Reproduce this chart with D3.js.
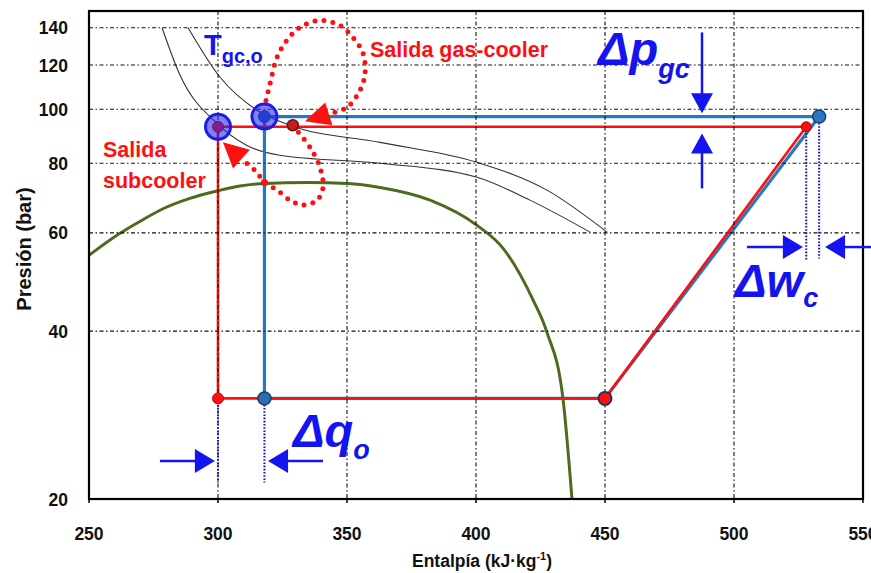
<!DOCTYPE html>
<html>
<head>
<meta charset="utf-8">
<script src="https://cdn.jsdelivr.net/npm/d3@7"></script>
<style>
  html, body { margin: 0; padding: 0; background: #fff; }
  svg { display: block; font-family: "Liberation Sans", Arial, sans-serif; }
</style>
</head>
<body>
<svg id="chart" width="871" height="573"></svg>
<script>
// Axis ticks
const hTicks = [250, 300, 350, 400, 450, 500, 550];
const pTicks = [20, 40, 60, 80, 100, 120, 140];
const hGrid = [300, 350, 400, 450, 500];
const pGrid = [40, 60, 80, 100, 120, 140];

// Saturation dome (enthalpy kJ/kg, pressure bar)
const domeH = [250, 262, 270.2, 278.7, 289.1, 300, 308.5, 318, 335, 350, 362.8, 382.2, 400.4, 410.5, 422.1, 427.5, 433.7, 437.2];
const domeP = [54.7, 59.9, 63.1, 66.3, 69.2, 71.4, 72.8, 73.6, 73.9, 73.6, 72.4, 68.7, 61.9, 56.3, 45.5, 39.8, 30.3, 20];

// Gas-cooler outlet isotherms
const isoAH = [278.3, 285.3, 299.6, 311.2, 324.0, 362.8, 400.4, 420.9, 444.2];
const isoAP = [140, 115.0, 94.3, 86.1, 82.7, 80.0, 75.5, 68.7, 60.2];
const isoBH = [288.4, 300.8, 315.1, 327.9, 362.8, 400.4, 427.5, 450.8];
const isoBP = [140, 114.1, 99.6, 93.6, 87.2, 80.3, 71.6, 60.2];

// Cycle with subcooler (red) and without (blue)
const redH = [300, 300, 450, 528, 300];
const redP = [93, 30.3, 30.3, 93, 93];
const blueH = [318, 318, 450, 533, 318];
const blueP = [97, 30.3, 30.3, 97, 97];

// Dotted callout paths
const gcLoopH = [318.6, 320.2, 322.9, 326.7, 331.8, 339.5, 347.3, 352.3, 356.2, 357.0, 355.0, 350.0, 343.0];
const gcLoopP = [103.7, 111.3, 123.9, 132.9, 140.2, 144.3, 141.3, 134.5, 126.0, 116.0, 108.1, 100.8, 98.1];
const scLoopH = [329.1, 330.6, 335.7, 339.5, 340.7, 338.4, 332.9, 327.9, 322.9, 318.2, 314.3, 309.3];
const scLoopP = [93.6, 91.6, 85.4, 78.7, 72.4, 68.7, 67.3, 68.7, 71.6, 73.9, 77.7, 81.2];

const svg = d3.select("#chart");
const M = { left: 89, right: 863, top: 11, bottom: 499 };
const x = d3.scaleLinear().domain([250, 550]).range([M.left, M.right]);
const y = d3.scaleLog().domain([20, 150]).range([M.bottom, M.top]);

const zip = (a, b) => a.map((v, i) => [v, b[i]]);
const line = d3.line().x(d => x(d[0])).y(d => y(d[1]));
const smooth = d3.line().x(d => x(d[0])).y(d => y(d[1])).curve(d3.curveCatmullRom.alpha(0.5));
const mono = d3.line().x(d => x(d[0])).y(d => y(d[1])).curve(d3.curveMonotoneX);

const RED = "#ff1010", BLUE = "#2479c4", TXTBLUE = "#1414f0", ANNOT = "#1010c8";

// Clip for plot contents
svg.append("defs").append("clipPath").attr("id", "plot")
  .append("rect").attr("x", M.left).attr("y", M.top)
  .attr("width", M.right - M.left).attr("height", M.bottom - M.top);

const plot = svg.append("g").attr("clip-path", "url(#plot)");

// Isotherms
[[isoAH, isoAP], [isoBH, isoBP]].forEach(([h, p]) => {
  plot.append("path").attr("d", mono(zip(h, p)))
    .attr("fill", "none").attr("stroke", "#333").attr("stroke-width", 1.1);
});

// Dome
plot.append("path").attr("d", mono(zip(domeH, domeP)))
  .attr("fill", "none").attr("stroke", "#4d6a1e").attr("stroke-width", 3);

// Cycles
plot.append("path").attr("d", line(zip(blueH, blueP)))
  .attr("fill", "none").attr("stroke", BLUE).attr("stroke-width", 3.2).attr("stroke-linejoin", "round");
plot.append("path").attr("d", line(zip(redH, redP)))
  .attr("fill", "none").attr("stroke", RED).attr("stroke-width", 2.6).attr("stroke-linejoin", "round");

// Grid on top of the cycle lines
const gridDash = "4,2.5,1.5,2.5";
plot.selectAll("line.hg").data(pGrid).join("line")
  .attr("x1", M.left).attr("x2", M.right)
  .attr("y1", d => y(d)).attr("y2", d => y(d))
  .attr("stroke", "#111").attr("stroke-width", 1.1).attr("stroke-dasharray", gridDash);
plot.selectAll("line.vg").data(hGrid).join("line")
  .attr("x1", d => x(d)).attr("x2", d => x(d))
  .attr("y1", M.top).attr("y2", M.bottom)
  .attr("stroke", "#111").attr("stroke-width", 1.1).attr("stroke-dasharray", gridDash);

// Blue dotted enthalpy markers
const markers = [[300, 30.3, 21.4], [318, 30.3, 21.4], [528, 93, 53.6], [533, 97, 54.0]];
plot.selectAll("line.mk").data(markers).join("line")
  .attr("x1", d => x(d[0])).attr("x2", d => x(d[0]))
  .attr("y1", d => y(d[1])).attr("y2", d => y(d[2]))
  .attr("stroke", ANNOT).attr("stroke-width", 2).attr("stroke-dasharray", "1.6,1.6");

// Red dotted callouts
[[gcLoopH, gcLoopP], [scLoopH, scLoopP]].forEach(([h, p]) => {
  plot.append("path").attr("d", smooth(zip(h, p)))
    .attr("fill", "none").attr("stroke", RED).attr("stroke-width", 5)
    .attr("stroke-linecap", "round").attr("stroke-dasharray", "0,9");
});

// Arrow head helper: triangle with tip at (tx,ty) pointing away from (fx,fy)
function head(g, fx, fy, tx, ty, len, hw, color) {
  const dx = tx - fx, dy = ty - fy, L = Math.hypot(dx, dy);
  const ux = dx / L, uy = dy / L;
  const bx = tx - ux * len, by = ty - uy * len;
  g.append("path")
    .attr("d", `M${tx},${ty}L${bx - uy * hw},${by + ux * hw}L${bx + uy * hw},${by - ux * hw}Z`)
    .attr("fill", color);
}
function arrow(g, h0, p0, h1, p1, color, len, hw) {
  const fx = x(h0), fy = y(p0), tx = x(h1), ty = y(p1);
  const L = Math.hypot(tx - fx, ty - fy);
  const ex = tx - (tx - fx) / L * (len - 2), ey = ty - (ty - fy) / L * (len - 2);
  g.append("line").attr("x1", fx).attr("y1", fy).attr("x2", ex).attr("y2", ey)
    .attr("stroke", color).attr("stroke-width", 2.5);
  head(g, fx, fy, tx, ty, len, hw, color);
}

// Red callout heads
head(plot, x(343.0), y(98.1), x(333.7), y(95.1), 25, 12, RED);
head(plot, x(309.3), y(81.2), x(301.9), y(87.2), 25, 12.5, RED);

// Points
const dot = (h, p, r, fill, stroke, sw) => plot.append("circle")
  .attr("cx", x(h)).attr("cy", y(p)).attr("r", r)
  .attr("fill", fill).attr("stroke", stroke).attr("stroke-width", sw);
dot(318, 73.9, 3.5, RED, "none", 0);
dot(300, 30.3, 5.5, RED, "#c01010", 1);
dot(318, 30.3, 6.5, "#2a6fae", "#1d3b66", 1.5);
dot(450, 30.3, 6.5, RED, "#303050", 2);
dot(528, 93, 5, RED, "#b00000", 1);
dot(533, 97, 6.5, "#2a78c0", "#1a3f70", 1.5);
dot(329, 93.6, 5.5, "#d01818", "#5a1818", 1.5);
dot(300, 93, 5.5, RED, "#b00000", 1);
dot(318, 97, 6, "#1e5fb0", "#1a3f70", 1);

// Highlighted outlet states
[[300, 93], [318, 97]].forEach(([h, p]) => {
  plot.append("circle").attr("cx", x(h)).attr("cy", y(p)).attr("r", 12.5)
    .attr("fill", "rgba(40,40,235,0.58)").attr("stroke", "#1c1ce8").attr("stroke-width", 3);
});

// Frame
svg.append("rect").attr("x", M.left).attr("y", M.top)
  .attr("width", M.right - M.left).attr("height", M.bottom - M.top)
  .attr("fill", "none").attr("stroke", "#000").attr("stroke-width", 2.2);

// X ticks
svg.selectAll("line.xt").data(hTicks).join("line")
  .attr("x1", d => x(d)).attr("x2", d => x(d)).attr("y1", M.bottom).attr("y2", M.bottom + 4)
  .attr("stroke", "#000").attr("stroke-width", 1.5);

// Tick labels
svg.selectAll("text.xl").data(hTicks).join("text")
  .attr("x", d => x(d)).attr("y", 540).attr("text-anchor", "middle")
  .attr("font-size", 17.5).attr("font-weight", "bold").attr("fill", "#111").text(d => d);
svg.selectAll("text.yl").data(pTicks).join("text")
  .attr("x", 68).attr("y", d => y(d) + 6.5).attr("text-anchor", "end")
  .attr("font-size", 17.5).attr("font-weight", "bold").attr("fill", "#111").text(d => d);

// Axis titles
const xt = svg.append("text").attr("x", 482).attr("y", 567).attr("text-anchor", "middle")
  .attr("font-size", 17.5).attr("font-weight", "bold").attr("fill", "#111");
xt.append("tspan").text("Entalpía (kJ·kg");
xt.append("tspan").attr("font-size", 11).attr("dy", -7).text("-1");
xt.append("tspan").attr("dy", 7).text(")");
svg.append("text").attr("transform", "translate(31,249) rotate(-90)").attr("text-anchor", "middle")
  .attr("font-size", 20).attr("font-weight", "bold").attr("fill", "#111").text("Presión (bar)");

// Annotation text
const tg = svg.append("text").attr("x", 204).attr("y", 55).attr("fill", TXTBLUE).attr("font-weight", "bold");
tg.append("tspan").attr("font-size", 29).text("T");
tg.append("tspan").attr("font-size", 20).attr("dy", 8).text("gc,o");

svg.append("text").attr("x", 370).attr("y", 57).attr("fill", RED).attr("font-weight", "bold")
  .attr("font-size", 21.5).text("Salida gas-cooler");
const sc = svg.append("text").attr("fill", RED).attr("font-weight", "bold").attr("font-size", 21.5);
sc.append("tspan").attr("x", 103).attr("y", 157).text("Salida");
sc.append("tspan").attr("x", 103).attr("y", 188).text("subcooler");

function delta(xp, yp, main, sub, dySub) {
  const t = svg.append("text").attr("x", xp).attr("y", yp).attr("fill", TXTBLUE)
    .attr("font-weight", "bold").attr("font-style", "italic");
  t.append("tspan").attr("font-size", 47).text(main);
  t.append("tspan").attr("font-size", 27).attr("dy", dySub).text(sub);
}
delta(598, 65, "Δp", "gc", 13);
delta(735, 297, "Δw", "c", 10);
delta(293, 447, "Δq", "o", 12);

// Difference arrows
const ag = svg.append("g");
arrow(ag, 487.6, 137.3, 487.6, 98.3, TXTBLUE, 20, 11);
arrow(ag, 487.6, 72.1, 487.6, 90.5, TXTBLUE, 20, 11);
arrow(ag, 505.0, 56.6, 526.7, 56.6, TXTBLUE, 20, 12);
arrow(ag, 553.1, 56.6, 535.3, 56.6, TXTBLUE, 20, 12);
arrow(ag, 277.5, 23.4, 298.8, 23.4, TXTBLUE, 20, 12);
arrow(ag, 340.7, 23.4, 319.4, 23.4, TXTBLUE, 20, 12);
</script>
</body>
</html>
